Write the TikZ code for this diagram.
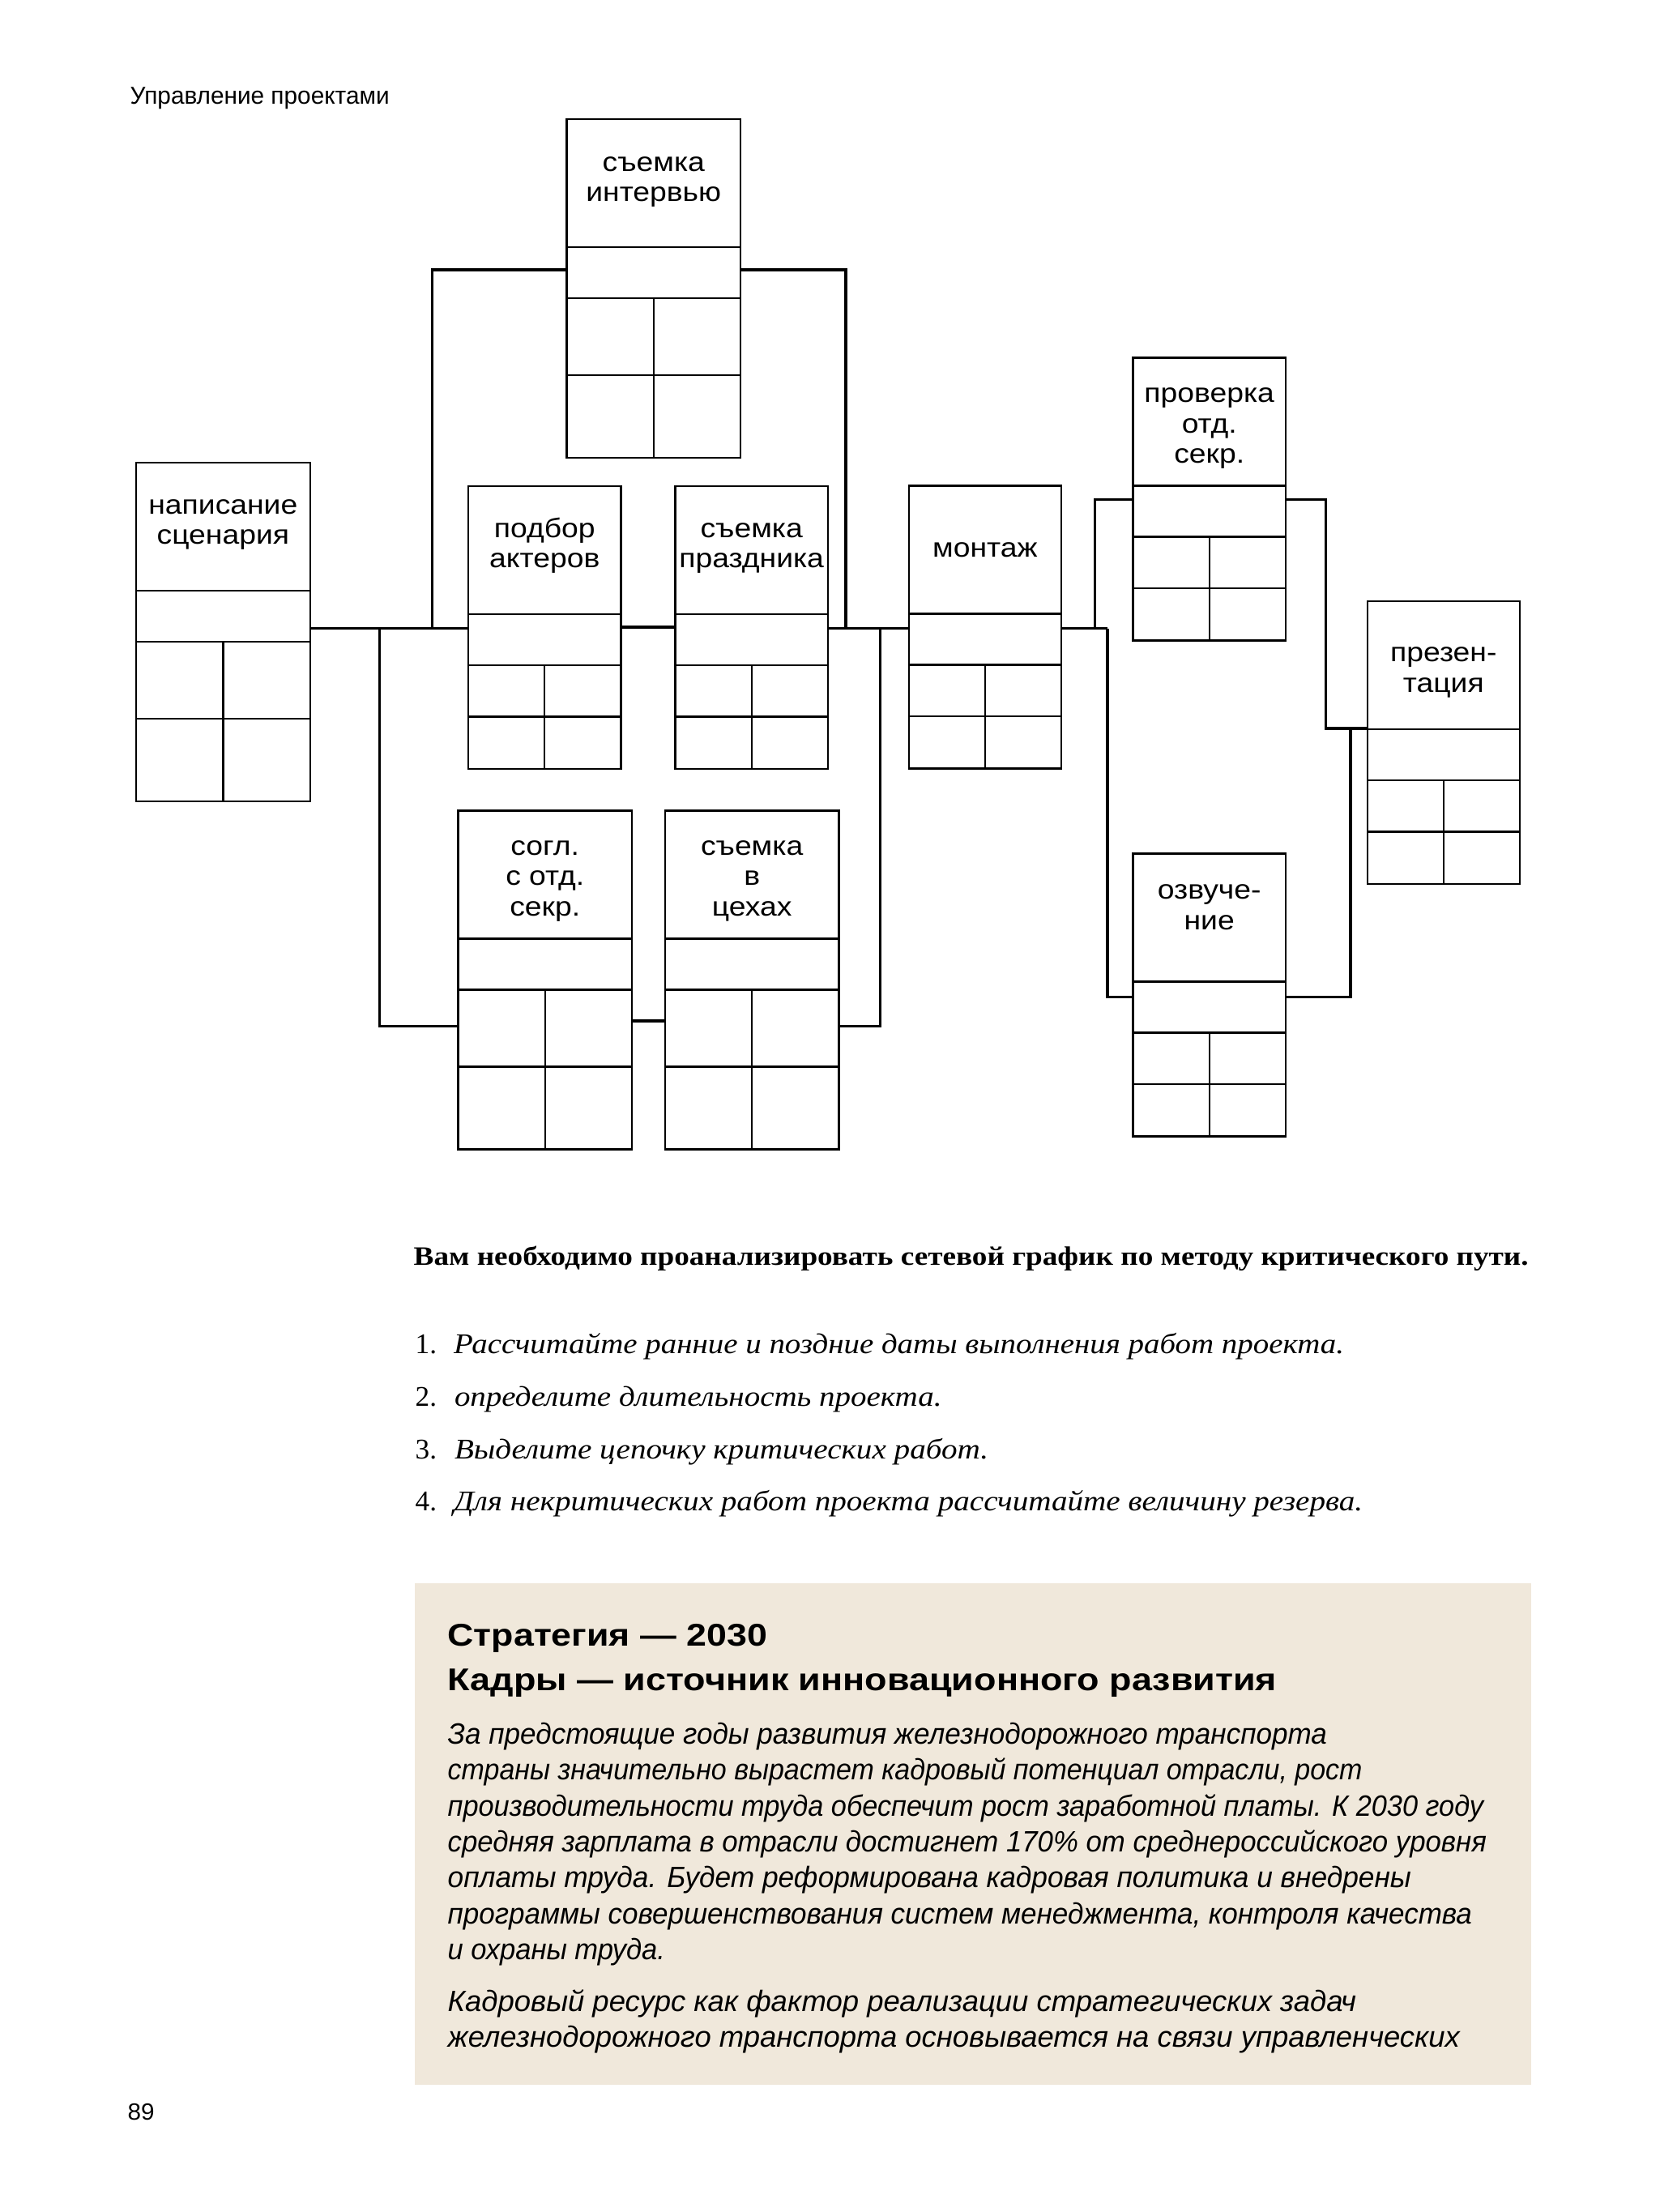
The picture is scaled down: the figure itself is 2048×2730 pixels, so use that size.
\documentclass[tikz,border=0pt]{standalone}
\usepackage{graphicx}
\usepackage{fontspec}
\setmainfont{Liberation Serif}
\setsansfont{Liberation Sans}
\newfontfamily\boxfont{Liberation Sans}
\definecolor{panelbg}{RGB}{240,232,219}
\newcommand\fitw[2]{\resizebox{#1pt}{\height}{#2}}
\newcommand\blab[1]{\scalebox{1.12}[1]{\fontsize{33.3}{37.7}\selectfont\boxfont\begin{tabular}[t]{@{}c@{}}#1\end{tabular}}}
\tikzset{
  abox/.style={draw=black, line width=2.3pt, inner sep=0pt, outer sep=0pt, rectangle},
  boxline/.style={draw=black, line width=2.3pt},
  conn/.style={draw=black, line width=3.2pt},
  txt/.style={anchor=base west, inner sep=0pt, outer sep=0pt}
}
% #1 name, #2 x, #3 y, #4 w, #5 h, #6 grid mid, #7 baseline offset, #8 label
\newcommand\actbox[8]{%
  \node[abox, minimum width=#4pt, minimum height=#5pt, anchor=north west] (#1) at (#2,#3) {};
  \draw[boxline] (#2,#3+158) -- ++(#4,0);
  \draw[boxline] (#2,#3+221) -- ++(#4,0);
  \draw[boxline] (#2,#3+#6) -- ++(#4,0);
  \draw[boxline] (#2+#4/2,#3+221) -- (#2+#4/2,#3+#5);
  \node[anchor=base, inner sep=0pt] (#1-lbl) at (#2+#4/2,#3+#7) {\blab{#8}};
}
\begin{document}
\begin{tikzpicture}[x=1pt,y=-1pt]
\useasboundingbox (0,0) rectangle (2048,2730);
\fill[white] (0,0) rectangle (2048,2730);

% header and page number
\node[txt] (hdr) at (160.7,128.3) {\fitw{320}{\sffamily\fontsize{30.2}{36}\selectfont Управление проектами}};
\node[txt] (pgno) at (157.7,2616.7) {\fitw{33}{\sffamily\fontsize{28.9}{34}\selectfont 89}};

% activity boxes
\actbox{nap}{168}{570.7}{214.7}{418}{316}{63.3}{написание\\сценария}
\actbox{intv}{699.4}{147}{214.7}{418}{316}{64}{съемка\\интервью}
\actbox{pod}{578}{600}{188.5}{349}{284.5}{63}{подбор\\актеров}
\actbox{prz}{833.4}{600}{188.6}{349}{284.5}{63}{съемка\\праздника}
\actbox{sogl}{565.6}{1000.6}{214.2}{418}{316}{54.5}{согл.\\с отд.\\секр.}
\actbox{ceh}{820.7}{1000.6}{214.9}{418}{316}{54.5}{съемка\\в\\цехах}
\actbox{mont}{1121.7}{599.6}{188.3}{349}{284.5}{87.4}{монтаж}
\actbox{prov}{1398.4}{441.5}{188.6}{349}{284.5}{55}{проверка\\отд.\\секр.}
\actbox{ozv}{1398.4}{1053.6}{188.6}{349}{284.5}{56}{озвуче-\\ние}
\actbox{prez}{1687.8}{742}{188}{349}{284.5}{74.5}{презен-\\тация}

% junction coordinates
\coordinate (ymain) at (0,775.6);
\coordinate (ja) at (533.7,775.6);
\coordinate (jb) at (468.6,775.6);
\coordinate (jc) at (1044,775.6);
\coordinate (jd) at (1086.5,775.6);
\coordinate (je) at (1367,775.6);
\coordinate (jf) at (1351.6,775.6);
\coordinate (yt) at (0,333);
\coordinate (yb) at (0,1266.5);
\coordinate (yb2) at (0,1260);
\coordinate (ym2) at (0,774);
\coordinate (yp) at (0,616.3);
\coordinate (yo) at (0,1230.4);
\coordinate (jg) at (1636.4,899);
\coordinate (jh) at (1667,899);

% connectors
\draw[conn] (nap.east |- ymain) -- (pod.west |- ymain);
\draw[conn] (ja) |- (intv.west |- yt);
\draw[conn] (jb) |- (sogl.west |- yb);
\draw[conn] (pod.east |- ym2) -- (prz.west |- ym2);
\draw[conn] (intv.east |- yt) -| (jc);
\draw[conn] (prz.east |- ymain) -- (mont.west |- ymain);
\draw[conn] (jd) |- (ceh.east |- yb);
\draw[conn] (sogl.east |- yb2) -- (ceh.west |- yb2);
\draw[conn] (mont.east |- ymain) -- (je);
\draw[conn] (jf) |- (prov.west |- yp);
\draw[conn] (je) |- (ozv.west |- yo);
\draw[conn] (prov.east |- yp) -| (jg) -- (prez.west |- jg);
\draw[conn] (ozv.east |- yo) -| (jh);

% task text
\node[txt] (task) at (510.7,1561) {\fitw{1376}{\fontsize{32.8}{38}\selectfont\bfseries Вам необходимо проанализировать сетевой график по методу критического пути.}};
\node[txt] (n1) at (512.7,1670) {\fontsize{35.2}{40}\selectfont 1.};
\node[txt] (i1) at (560,1670) {\fitw{1099}{\fontsize{35.2}{40}\selectfont\itshape Рассчитайте ранние и поздние даты выполнения работ проекта.}};
\node[txt] (n2) at (512.7,1735) {\fontsize{35.2}{40}\selectfont 2.};
\node[txt] (i2) at (561,1735) {\fitw{601.5}{\fontsize{35.2}{40}\selectfont\itshape определите длительность проекта.}};
\node[txt] (n3) at (512.7,1800) {\fontsize{35.2}{40}\selectfont 3.};
\node[txt] (i3) at (561,1800) {\fitw{659}{\fontsize{35.2}{40}\selectfont\itshape Выделите цепочку критических работ.}};
\node[txt] (n4) at (512.7,1864.3) {\fontsize{35.2}{40}\selectfont 4.};
\node[txt] (i4) at (560,1864.3) {\fitw{1122}{\fontsize{35.2}{40}\selectfont\itshape Для некритических работ проекта рассчитайте величину резерва.}};

% panel
\node[fill=panelbg, draw=none, minimum width=1377.6pt, minimum height=619pt, anchor=north west, inner sep=0pt, outer sep=0pt] (panel) at (512.4,1954) {};
\node[txt] (t1) at (552.7,2031.7) {\fitw{394.3}{\sffamily\bfseries\fontsize{38.8}{44}\selectfont Стратегия — 2030}};
\node[txt] (t2) at (552.7,2086.8) {\fitw{1023.3}{\sffamily\bfseries\fontsize{38.8}{44}\selectfont Кадры — источник инновационного развития}};
\node[txt] (b1) at (552.7,2152.3) {\fitw{1085.3}{\sffamily\itshape\fontsize{36.3}{44}\selectfont За предстоящие годы развития железнодорожного транспорта}};
\node[txt] (b2) at (552.7,2196.7) {\fitw{1128.8}{\sffamily\itshape\fontsize{36.3}{44}\selectfont страны значительно вырастет кадровый потенциал отрасли, рост}};
\node[txt] (b3) at (552.7,2241.1) {\fitw{1278.3}{\sffamily\itshape\fontsize{36.3}{44}\selectfont производительности труда обеспечит рост заработной платы. К 2030 году}};
\node[txt] (b4) at (552.7,2285.5) {\fitw{1282.3}{\sffamily\itshape\fontsize{36.3}{44}\selectfont средняя зарплата в отрасли достигнет 170\% от среднероссийского уровня}};
\node[txt] (b5) at (552.7,2329.9) {\fitw{1189.3}{\sffamily\itshape\fontsize{36.3}{44}\selectfont оплаты труда. Будет реформирована кадровая политика и внедрены}};
\node[txt] (b6) at (552.7,2374.3) {\fitw{1264.3}{\sffamily\itshape\fontsize{36.3}{44}\selectfont программы совершенствования систем менеджмента, контроля качества}};
\node[txt] (b7) at (552.7,2418.7) {\fitw{268.3}{\sffamily\itshape\fontsize{36.3}{44}\selectfont и охраны труда.}};
\node[txt] (b8) at (552.7,2482.8) {\fitw{1121.3}{\sffamily\itshape\fontsize{36.3}{44}\selectfont Кадровый ресурс как фактор реализации стратегических задач}};
\node[txt] (b9) at (552.7,2526.8) {\fitw{1249.3}{\sffamily\itshape\fontsize{36.3}{44}\selectfont железнодорожного транспорта основывается на связи управленческих}};
\end{tikzpicture}
\end{document}
